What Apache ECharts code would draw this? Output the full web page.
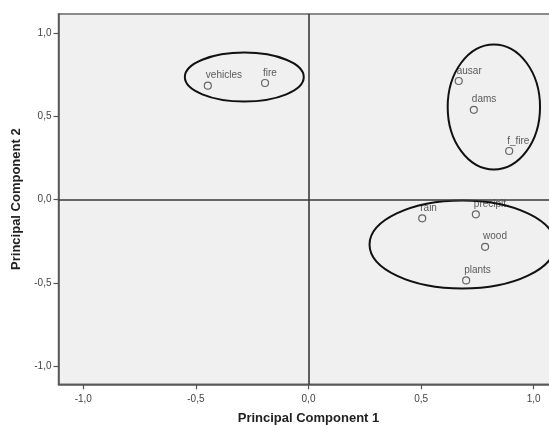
<!DOCTYPE html>
<html>
<head>
<meta charset="utf-8">
<script src="https://cdn.jsdelivr.net/npm/echarts@6/dist/echarts.min.js"></script>
<style>
html,body{margin:0;padding:0;background:#fff;}
#c{width:549px;height:425px;}
</style>
</head>
<body>
<div id="c"></div>
<script>
// Data
var labels = ['vehicles','fire','ausar','dams','f_fire','rain','precipit','wood','plants'];
var pc1 = [-0.447,-0.193,0.667,0.734,0.891,0.505,0.743,0.784,0.700];
var pc2 = [0.686,0.702,0.714,0.541,0.293,-0.112,-0.088,-0.283,-0.485];
var tickValues = [-1.0,-0.5,0.0,0.5,1.0];
// Ellipse annotations: [centerX, centerY, radiusX, radiusY] in data units
var ellipseCX = [-0.285, 0.823, 0.683];
var ellipseCY = [0.738, 0.558, -0.269];
var ellipseRX = [0.264, 0.205, 0.412];
var ellipseRY = [0.147, 0.376, 0.265];

var points = labels.map(function(n,i){ return {name:n, value:[pc1[i], pc2[i]]}; });
var ellipses = ellipseCX.map(function(c,i){ return [c, ellipseCY[i], ellipseRX[i], ellipseRY[i]]; });

function fmt(v){ return v.toFixed(1).replace('.', ','); }

var chart = echarts.init(document.getElementById('c'), null, {renderer:'canvas'});
chart.setOption({
  animation:false,
  grid:{left:58.5, top:14, width:500, bottom:40.7, outerBoundsMode:'none', containLabel:false,
    show:true, backgroundColor:'#f0f0f0', borderColor:'#666', borderWidth:1.5},
  xAxis:{type:'value', min:-1.11, max:1.11,
    name:'Principal Component 1', nameLocation:'middle', nameGap:28,
    nameTextStyle:{fontFamily:'Liberation Sans, Arial', fontWeight:'bold', fontSize:13, color:'#222'},
    axisLine:{show:true, onZero:false, lineStyle:{color:'#555', width:1.5}},
    axisTick:{show:true, length:5, customValues:tickValues, lineStyle:{color:'#555', width:1.2}},
    axisLabel:{customValues:tickValues, formatter:fmt, margin:10, fontFamily:'Liberation Sans, Arial', fontSize:10, color:'#444'},
    splitLine:{show:false}},
  yAxis:{type:'value', min:-1.11, max:1.117,
    name:'Principal Component 2', nameLocation:'middle', nameGap:32,
    nameTextStyle:{fontFamily:'Liberation Sans, Arial', fontWeight:'bold', fontSize:13, color:'#222'},
    axisLine:{show:true, onZero:false, lineStyle:{color:'#555', width:1.5}},
    axisTick:{show:true, length:5, customValues:tickValues, lineStyle:{color:'#555', width:1.2}},
    axisLabel:{customValues:tickValues, formatter:fmt, margin:7, fontFamily:'Liberation Sans, Arial', fontSize:10, color:'#444'},
    splitLine:{show:false}},
  series:[
    {type:'scatter', data:points, symbol:'circle', symbolSize:7,
     itemStyle:{color:'rgba(0,0,0,0)', borderColor:'#444', borderWidth:1.2},
     label:{show:true, position:'top', align:'left', offset:[-2,0], distance:1, formatter:'{b}',
       fontFamily:'Liberation Sans, Arial', fontSize:10, color:'#333'},
     markLine:{silent:true, symbol:'none', label:{show:false}, animation:false,
       lineStyle:{color:'#3a3a3a', type:'solid', width:1.6},
       data:[{xAxis:0},{yAxis:0}]},
     z:3},
    {type:'custom', data:ellipses, silent:true, z:4,
     renderItem:function(params, api){
       var c = api.coord([api.value(0), api.value(1)]);
       var s = api.size([api.value(2), api.value(3)]);
       return {type:'ellipse', shape:{cx:c[0], cy:c[1], rx:s[0], ry:s[1]},
         style:{fill:'none', stroke:'#111', lineWidth:2}};
     }}
  ]
});
</script>
</body>
</html>
